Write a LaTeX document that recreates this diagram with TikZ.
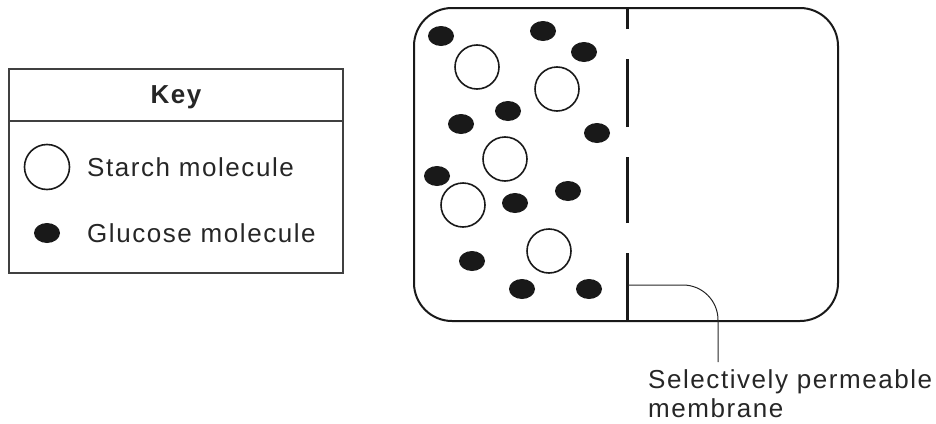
\documentclass[tikz,border=0pt]{standalone}
\usepackage{fontspec}
\setmainfont[LetterSpace=6]{Liberation Sans}
\usetikzlibrary{shapes.geometric}
\tikzset{
  txt/.style={font=\fontsize{26}{29}\selectfont, text=black!85, inner sep=0pt},
  starch/.style={circle, draw=black!90, line width=1.6pt, minimum size=44pt, inner sep=0pt},
  glucose/.style={ellipse, fill=black!90, minimum width=26pt, minimum height=20pt, inner sep=0pt},
  container/.style={rectangle, draw=black!90, line width=2pt, rounded corners=38pt, minimum width=424pt, minimum height=313pt, inner sep=0pt},
  keyframe/.style={rectangle, draw=black!75, line width=1.6pt, minimum width=334pt, minimum height=204pt, inner sep=0pt},
  membranestyle/.style={draw=black!90, line width=3pt, dash pattern=on 68pt off 30pt on 66pt off 30pt},
  leader/.style={draw=black!85, line width=1pt, rounded corners=35pt}
}
\begin{document}
\begin{tikzpicture}[x=1pt,y=-1pt]
\useasboundingbox (0,0) rectangle (936,423);
% key
\node[keyframe] (keybox) at (176,171) {};
\coordinate (sepL) at (9,121);
\coordinate (sepR) at (343,121);
\draw[draw=black!75, line width=1.6pt] (sepL) -- (sepR);
\node[txt, font=\fontsize{26}{29}\selectfont\bfseries] (keytitle) at (176,97) {Key};
\node[starch, minimum size=45pt] (keystarch) at (47,167) {};
\node[txt, anchor=west] (keystarchtxt) at (87,167) {Starch molecule};
\node[glucose] (keyglucose) at (47,233) {};
\node[txt, anchor=west] (keyglucosetxt) at (87,233) {Glucose molecule};
% container
\node[container] (box) at (626,164.5) {};
\coordinate (membot) at (627,321);
\coordinate (memtop) at (627,8);
\draw[membranestyle] (membot) -- (memtop);
% starch
\node[starch] (s1) at (477,67) {};
\node[starch] (s2) at (557,89) {};
\node[starch] (s3) at (505,159) {};
\node[starch] (s4) at (463,205) {};
\node[starch] (s5) at (549,251) {};
% glucose
\node[glucose] (g1) at (441,36) {};
\node[glucose] (g2) at (543,31) {};
\node[glucose] (g3) at (584,52) {};
\node[glucose] (g4) at (508,111) {};
\node[glucose] (g5) at (461,124) {};
\node[glucose] (g6) at (597,133) {};
\node[glucose] (g7) at (437,176) {};
\node[glucose] (g8) at (568,191) {};
\node[glucose] (g9) at (515,203) {};
\node[glucose] (g10) at (472,261) {};
\node[glucose] (g11) at (522,289) {};
\node[glucose] (g12) at (589,289) {};
% label
\coordinate (memlead) at (628,285);
\coordinate (leadend) at (718,362);
\node[txt, anchor=north west, align=left] (label) at (648,369) {Selectively permeable\\membrane};
\draw[leader] (memlead) -| (leadend);
\end{tikzpicture}
\end{document}
